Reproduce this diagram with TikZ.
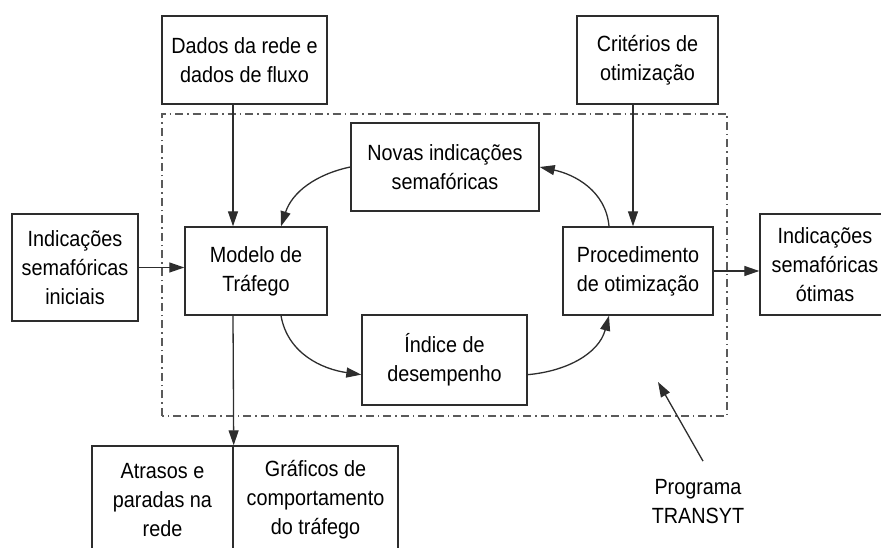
\documentclass[tikz,border=0pt]{standalone}
\usepackage{fontspec}
\setmainfont{Liberation Sans}[FakeStretch=0.9]
\usepackage{xcolor}
\usepackage{tikz}
\usetikzlibrary{arrows.meta}
\usetikzlibrary{calc}
\definecolor{linegray}{RGB}{45,45,45}
\definecolor{framegray}{RGB}{90,90,90}
\tikzset{
	box/.style={draw=linegray,line width=1.4pt,fill=white,align=center,inner sep=0pt,font=\fontsize{22}{29}\selectfont},
	arr/.style={draw=linegray,line width=1.3pt,-{Triangle[length=15pt,width=10pt]}}
}

\begin{document}
\begin{tikzpicture}[x=1pt,y=1pt]
	\useasboundingbox (0,0) rectangle (881,548);
	
	% TRANSYT frame
	\draw[framegray,line width=1.2pt,dash pattern=on 8pt off 4pt on 1.5pt off 4pt] (162,132) rectangle (727,434);
	
	\node [box,minimum width=165,minimum height=88] (dados) at (244.5,488) {Dados da rede e\\dados de fluxo};
	\node [box,minimum width=141,minimum height=88] (criterios) at (647.5,488) {Critérios de\\otimização};
	\node [box,minimum width=188,minimum height=88] (novas) at (445,381) {Novas indicações\\semafóricas};
	\node [box,minimum width=126,minimum height=107] (iniciais) at (75,280.5) {Indicações\\semafóricas\\iniciais};
	\node [box,minimum width=142,minimum height=88] (modelo) at (256,277) {Modelo de\\Tráfego};
	\node [box,minimum width=150,minimum height=88] (proced) at (638,277) {Procedimento\\de otimização};
	\node [box,minimum width=130,minimum height=101] (otimas) at (825,283.5) {Indicações\\semafóricas\\ótimas};
	\node [box,minimum width=165,minimum height=90] (indice) at (444.5,188) {Índice de\\desempenho};
	\node [box,minimum width=141,minimum height=108] (atrasos) at (162.5,48) {Atrasos e\\paradas na\\rede};
	\node [box,minimum width=165,minimum height=108] (graficos) at (315.5,48) {Gráficos de\\comportamento\\do tráfego};
	
	\node [font=\fontsize{22}{29}\selectfont,align=center,inner sep=0pt] (prog) at (698,46.5) {Programa\\TRANSYT};
	
	\coordinate [] (trunk) at (233,0);
	\coordinate [] (crit) at (633,0);
	\coordinate [] (mside) at (281,0);
	\coordinate [] (pside) at (609,0);
	\coordinate [] (ptip) at (658,166);
	
	\draw[arr] (dados.south -| trunk) -- (modelo.north -| trunk);
	\draw[arr] (criterios.south -| crit) -- (proced.north -| crit);
	\draw[arr] (iniciais.east) -- (modelo.west |- iniciais.east);
	\draw[arr] (proced.east) -- (otimas.west |- proced.east);
	\draw[arr] (modelo.south -| trunk) -- (atrasos.north east);
	
	% iteration loop
	\draw[arr] (novas.west) to[out=192,in=72] (modelo.north -| mside);
	\draw[arr] (proced.north -| pside) to[out=95,in=-12] (novas.east);
	\draw[arr] (modelo.south -| mside) to[out=-80,in=172] (indice.190);
	\draw[arr] (indice.350) to[out=5,in=-105] (proced.south -| pside);
	
	\draw[arr] ($(prog.north)+(5,18)$) -- (ptip);
	
\end{tikzpicture}
\end{document}
